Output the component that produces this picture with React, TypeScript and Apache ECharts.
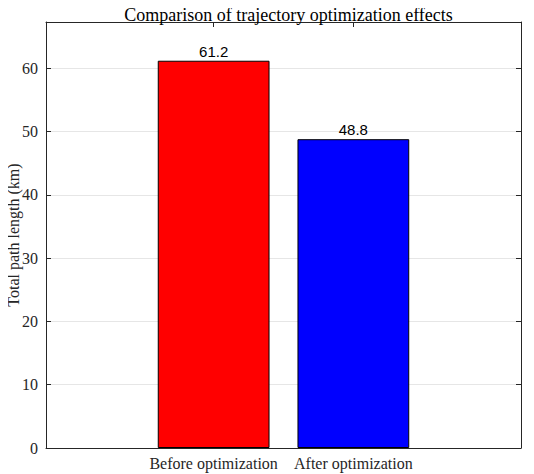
import React, { useEffect, useRef } from "react";
import * as echarts from "echarts";

const categories = ["Before optimization", "After optimization"];
const positions = [1, 2];
const values = [61.2, 48.8];
const colors = ["#ff0000", "#0000ff"];
const yTicks = [0, 10, 20, 30, 40, 50, 60];

const SERIF = "'Liberation Serif', 'DejaVu Serif', serif";
const SANS = "'Liberation Sans', Arial, sans-serif";
const AXIS = "#262626";

export default function App() {
  const ref = useRef<HTMLDivElement>(null);
  useEffect(() => {
    if (!ref.current) return;
    const chart = echarts.init(ref.current, undefined, { renderer: "svg" });
    const yMax = Math.max(...values) * 1.1;
    const xBase = {
      type: "value" as const,
      min: -0.2,
      max: 3.2,
      splitLine: { show: false },
      axisLine: { show: true, onZero: false, lineStyle: { color: AXIS, width: 1 } },
      axisTick: { show: true, inside: true, length: 5, customValues: positions, lineStyle: { color: AXIS } },
    };
    const yBase = {
      type: "value" as const,
      min: 0,
      max: yMax,
      interval: 10,
      axisLine: { show: true, onZero: false, lineStyle: { color: AXIS, width: 1 } },
      axisTick: { show: true, inside: true, length: 5, customValues: yTicks, lineStyle: { color: AXIS } },
    };
    chart.setOption({
      animation: false,
      backgroundColor: "#ffffff",
      title: {
        text: "Comparison of trajectory optimization effects",
        left: 283.5,
        textAlign: "center",
        top: 1,
        textStyle: { fontFamily: SERIF, fontSize: 18, fontWeight: "normal", color: "#000" },
      },
      grid: {
        left: 46,
        right: 13,
        top: 22,
        bottom: 26,
        containLabel: false,
        outerBoundsMode: "none",
      },
      xAxis: [
        {
          ...xBase,
          position: "bottom",
          axisLabel: {
            show: true,
            customValues: positions,
            formatter: (v: number) => categories[positions.indexOf(Math.round(v))] ?? "",
            fontFamily: SERIF,
            fontSize: 16,
            color: "#262626",
            margin: 7,
          },
        },
        { ...xBase, position: "top", axisLabel: { show: false } },
      ],
      yAxis: [
        {
          ...yBase,
          position: "left",
          name: "Total path length (km)",
          nameLocation: "middle",
          nameGap: 25,
          nameMoveOverlap: false,
          nameTextStyle: { fontFamily: SERIF, fontSize: 16, color: "#262626" },
          splitLine: { show: true, lineStyle: { color: "#e6e6e6", width: 1 } },
          axisLabel: {
            show: true,
            customValues: yTicks,
            fontFamily: SERIF,
            fontSize: 16,
            color: "#262626",
            margin: 8,
          },
        },
        {
          ...yBase,
          position: "right",
          splitLine: { show: false },
          axisLabel: { show: false },
        },
      ],
      series: [
        {
          type: "bar",
          xAxisIndex: 0,
          yAxisIndex: 0,
          barWidth: "80%",
          data: values.map((v, i) => ({
            value: [positions[i], v],
            itemStyle: { color: colors[i], borderColor: "#000", borderWidth: 1 },
          })),
          label: {
            show: true,
            position: "top",
            distance: 2,
            formatter: (p: any) => p.value[1].toFixed(1),
            fontFamily: SANS,
            fontSize: 15,
            color: "#000",
          },
        },
      ],
    });
    return () => chart.dispose();
  }, []);
  return <div ref={ref} style={{ width: 534, height: 474, marginLeft: -8, marginTop: -8 }} />;
}
